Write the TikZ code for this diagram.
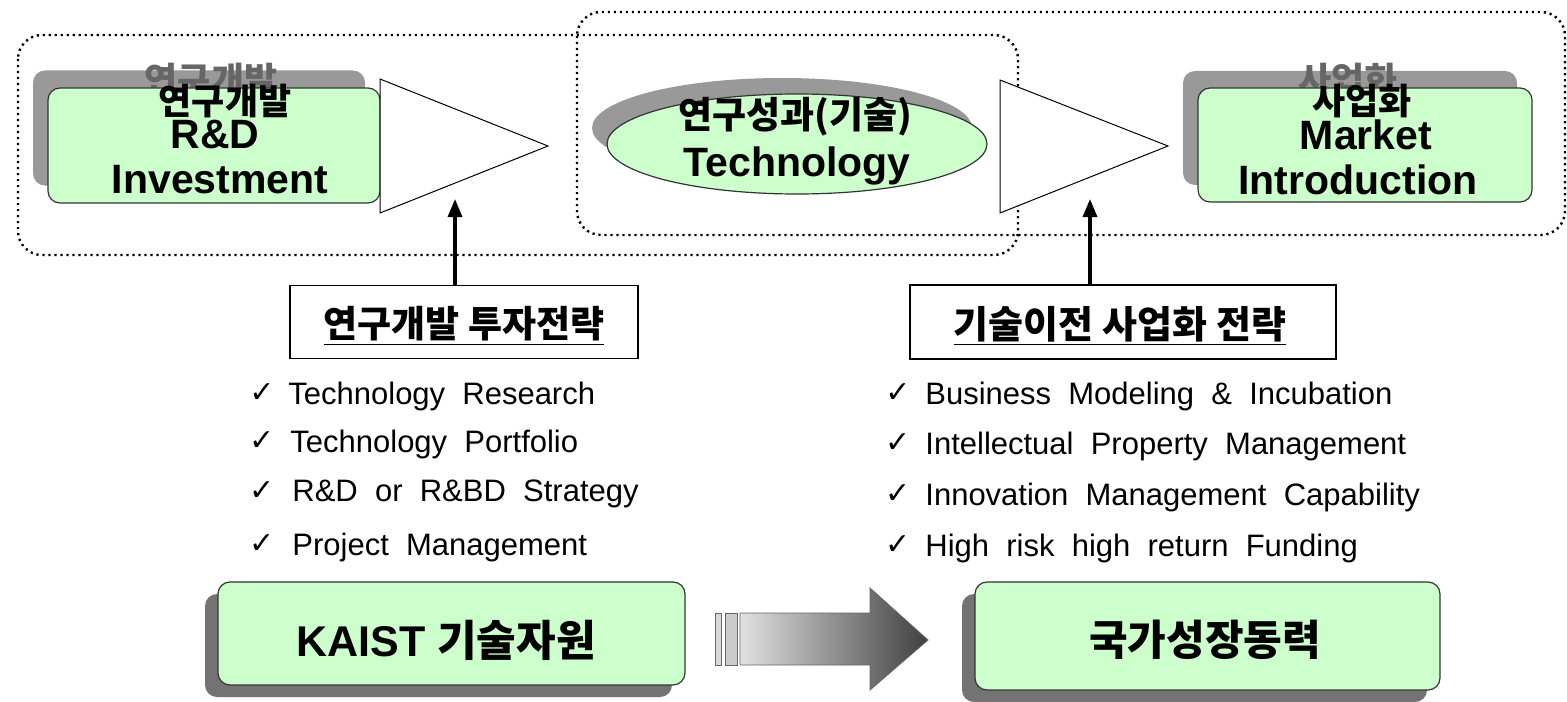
\documentclass[tikz,border=0pt]{standalone}
\usepackage{fontspec}
\setmainfont{Liberation Sans}
\newfontfamily\kr{Noto Sans CJK KR}
\newfontfamily\djv{DejaVu Sans}
\usetikzlibrary{shapes.geometric,arrows.meta}
\definecolor{mint}{HTML}{CCFFCC}
\begin{document}
\begin{tikzpicture}[x=0.5pt,y=-0.5pt,
  dotbox/.style={line width=1.2pt, dash pattern=on 1.1pt off 1.9pt, rounded corners=12pt},
  greenbox/.style={draw=black!80, fill=mint, rounded corners=6pt, line width=0.6pt, inner sep=0pt},
  shadowbox/.style={fill=black!40, rounded corners=6pt, inner sep=0pt},
  darkshadow/.style={fill=black!55, rounded corners=6pt, inner sep=0pt},
  stratbox/.style={draw=black, fill=white, line width=0.7pt, inner sep=0pt},
  tri/.style={draw=black, fill=white, line width=0.5pt},
  uparrow/.style={line width=1.6pt, -{Triangle[length=9pt,width=7pt]}},
  txt/.style={inner sep=0pt},
  item/.style={anchor=west, inner sep=0pt, font=\fontsize{15.5}{18}\selectfont},
  chk/.style={anchor=west, inner sep=0pt, font=\djv\fontsize{15}{17}\selectfont},
  ghost/.style={inner sep=0pt, text=black!60},
]
\useasboundingbox (0,0) rectangle (1567,701);
\fill[white] (0,0) rectangle (1567,701);

% dotted grouping frames
\draw[dotbox] (577,12) rectangle (1565,235);
\draw[dotbox] (18,35) rectangle (1018,255);

% left top box (R&D)
\node[shadowbox, minimum width=166pt, minimum height=57.5pt] (shL) at (199,128) {};
\node[ghost, font=\kr\bfseries\fontsize{18}{20}\selectfont] (ghL) at (211,80) {연구개발};
\node[greenbox, minimum width=166pt, minimum height=57.5pt] (rd) at (214,145.5) {};
\node[txt, font=\kr\bfseries\fontsize{18}{20}\selectfont] (rd1) at (225,101) {연구개발};
\node[txt, font=\bfseries\fontsize{20.5}{22}\selectfont] (rd2) at (215,135) {R\&D};
\node[txt, font=\bfseries\fontsize{20.5}{22}\selectfont] (rd3) at (220,180) {Investment};

% triangle 1
\draw[tri] (380,79) -- (548,146) -- (380,213) -- cycle;
\coordinate (t1) at (455,199);

% ellipse (Technology)
\node[ellipse, fill=black!40, minimum width=190pt, minimum height=50pt, inner sep=0pt] (shE) at (782,128) {};
\node[ellipse, draw=black!80, fill=mint, line width=0.6pt, minimum width=190pt, minimum height=50pt, inner sep=0pt] (tech) at (797,144) {};
\node[txt, font=\kr\bfseries\fontsize{18.5}{21}\selectfont] (te1) at (795,117) {연구성과(기술)};
\node[txt, font=\bfseries\fontsize{20.5}{22}\selectfont] (te2) at (797,166) {Technology};

% triangle 2
\draw[tri] (1000,80) -- (1168,146) -- (1000,213) -- cycle;
\coordinate (t2) at (1090,199);

% right top box (Market)
\node[shadowbox, minimum width=167pt, minimum height=57pt] (shR) at (1350,128) {};
\node[ghost, font=\kr\bfseries\fontsize{18}{20}\selectfont] (ghR) at (1348,80) {사업화};
\node[greenbox, minimum width=167pt, minimum height=57pt] (mk) at (1365,145) {};
\node[txt, font=\kr\bfseries\fontsize{18}{20}\selectfont] (mk1) at (1362,101) {사업화};
\node[txt, font=\bfseries\fontsize{20.5}{22}\selectfont] (mk2) at (1366,135) {Market};
\node[txt, font=\bfseries\fontsize{20.5}{22}\selectfont] (mk3) at (1358,180) {Introduction};

% strategy boxes
\node[stratbox, minimum width=174pt, minimum height=36.5pt] (s1) at (464,322) {};
\node[txt, font=\kr\bfseries\fontsize{18.5}{21}\selectfont] (s1t) at (464,326) {\underline{연구개발 투자전략}};
\node[stratbox, minimum width=213pt, minimum height=37pt] (s2) at (1123,322) {};
\node[txt, font=\kr\bfseries\fontsize{19}{21}\selectfont] (s2t) at (1120,326) {\underline{기술이전 사업화 전략}};

\draw[uparrow] (t1 |- s1.north) -- (t1);
\draw[uparrow] (t2 |- s2.north) -- (t2);

% left checklist
\node[chk, font=\djv\bfseries\fontsize{15}{17}\selectfont] (c11) at (249,393) {✓};
\node[item] (i11) at (288,396) {Technology\ \ Research};
\node[chk] (c12) at (249,441) {✓};
\node[item] (i12) at (290,444) {Technology\ \ Portfolio};
\node[chk] (c13) at (249,491) {✓};
\node[item] (i13) at (292,494) {R\&D\ \ or\ \ R\&BD\ \ Strategy};
\node[chk] (c14) at (249,544) {✓};
\node[item] (i14) at (292,547) {Project\ \ Management};

% right checklist
\node[chk, font=\djv\bfseries\fontsize{15}{17}\selectfont] (c21) at (885,393) {✓};
\node[item] (i21) at (925,396) {Business\ \ Modeling\ \ \&\ \ Incubation};
\node[chk] (c22) at (885,443) {✓};
\node[item] (i22) at (925,446) {Intellectual\ \ Property\ \ Management};
\node[chk] (c23) at (885,494) {✓};
\node[item] (i23) at (925,497) {Innovation\ \ Management\ \ Capability};
\node[chk] (c24) at (885,545) {✓};
\node[item] (i24) at (925,548) {High\ \ risk\ \ high\ \ return\ \ Funding};

% bottom boxes
\node[darkshadow, minimum width=233.5pt, minimum height=51.5pt] (shK) at (438.5,645.5) {};
\node[greenbox, minimum width=233.5pt, minimum height=51.5pt] (kaist) at (451.5,633.5) {};
\node[txt] (kt) at (446,640) {\bfseries\fontsize{21.5}{24}\selectfont KAIST {\kr 기술자원}};

\node[darkshadow, minimum width=232.5pt, minimum height=54pt] (shN) at (1194.5,648) {};
\node[greenbox, minimum width=232.5pt, minimum height=54pt] (nat) at (1207.5,636) {};
\node[txt, font=\kr\bfseries\fontsize{21}{24}\selectfont] (nt) at (1205,640) {국가성장동력};

% big gradient arrow
\draw[black!60, line width=0.4pt, fill=black!15] (715,613) rectangle (721,665);
\draw[black!60, line width=0.4pt, fill=black!20] (725,613) rectangle (737,665);
\draw[black!60, line width=0.4pt, left color=black!12, right color=black!75]
  (740,613) -- (870,613) -- (870,588) -- (928,640) -- (870,690) -- (870,665) -- (740,665) -- cycle;
\end{tikzpicture}
\end{document}
